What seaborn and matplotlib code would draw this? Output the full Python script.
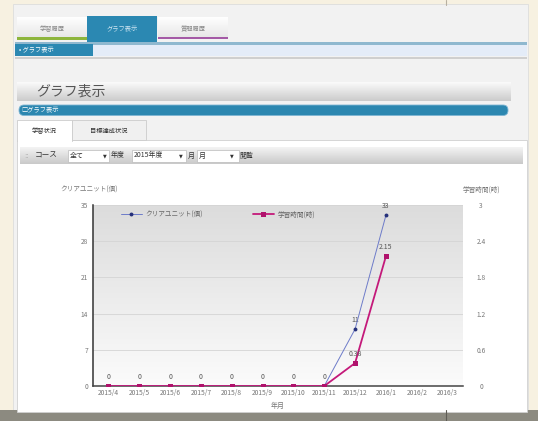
import numpy as np
import matplotlib
matplotlib.use("Agg")
import matplotlib.pyplot as plt
import seaborn as sns
from matplotlib.patches import Rectangle, FancyBboxPatch
from matplotlib.lines import Line2D
from matplotlib.colors import to_rgb

# ---- data -------------------------------------------------------------
months = ["2015/4", "2015/5", "2015/6", "2015/7", "2015/8", "2015/9",
          "2015/10", "2015/11", "2015/12", "2016/1", "2016/2", "2016/3"]
clear_units = [0, 0, 0, 0, 0, 0, 0, 0, 11, 33, np.nan, np.nan]
study_hours = [0, 0, 0, 0, 0, 0, 0, 0, 0.38, 2.15, np.nan, np.nan]
left_ticks = [0, 7, 14, 21, 28, 35]
right_ticks = [0, 0.6, 1.2, 1.8, 2.4, 3]
right_tick_labels = ["0", "0.6", "1.2", "1.8", "2.4", "3"]
series_names = ["クリアユニット(個)", "学習時間(時)"]

# ---- style ------------------------------------------------------------
sns.set_theme(style="white")
plt.rcParams["font.family"] = ["Noto Sans CJK JP", "DejaVu Sans"]

W, H = 538, 421
fig = plt.figure(figsize=(W / 100, H / 100), dpi=100)
fig.patch.set_facecolor("#f7f1e1")

# page canvas in pixel coordinates
bg = fig.add_axes([0, 0, 1, 1], zorder=0)
bg.set_xlim(0, W)
bg.set_ylim(H, 0)
bg.axis("off")


def rect(x0, y0, x1, y1, fc, ec="none", lw=0, z=1):
    bg.add_patch(Rectangle((x0, y0), x1 - x0, y1 - y0, facecolor=fc,
                           edgecolor=ec, linewidth=lw, zorder=z))


def vgrad(x0, y0, x1, y1, c_top, c_bot, z=1):
    a, b = np.array(to_rgb(c_top)), np.array(to_rgb(c_bot))
    t = np.linspace(0, 1, 64)[:, None, None]
    img = a * (1 - t) + b * t
    bg.imshow(img, extent=(x0, x1, y1, y0), aspect="auto",
              interpolation="bilinear", zorder=z)


def txt(x, y, s, size=5, color="#666666", ha="left", **kw):
    bg.text(x, y, s, fontsize=size, color=color, ha=ha, va="center", zorder=6, **kw)


# outer page
rect(13, 4, 528, 410, "#f2f2f2", ec="#dddddd", lw=0.6)
rect(0, 410, W, H, "#8c8a80")
bg.plot([446, 446], [0, 5], color="#b8b0a0", lw=0.8, zorder=2)
bg.plot([446, 446], [410, H], color="#5e5c55", lw=0.8, zorder=2)

# top navigation tabs
vgrad(17, 17, 87, 38, "#ffffff", "#e6e6e6")
rect(17, 37, 87, 40, "#8db53c", z=2)
txt(52, 29, "学習履歴", size=4.5, color="#888888", ha="center")
rect(87, 16, 157, 45, "#2b88b2", z=2)
txt(122, 29, "グラフ表示", size=4.5, color="#cfe6f2", ha="center")
vgrad(158, 17, 228, 38, "#ffffff", "#e6e6e6")
rect(158, 36.5, 228, 39, "#a45aa6", z=2)
txt(193, 29, "質問履歴", size=4.5, color="#888888", ha="center")

# breadcrumb strip
rect(15, 42, 527, 44.5, "#8fb8cf", z=2)
rect(15, 44.5, 527, 56, "#e4ecf8", z=1)
rect(15, 44, 93, 56, "#2b88b2", z=3)
txt(19, 50, "• グラフ表示", size=4.5, color="#ffffff")
rect(15, 57, 527, 59, "#cfcfcf", z=2)

# page heading
vgrad(17, 82, 511, 101, "#fbfbfb", "#cbcbcb")
txt(36, 91.5, "グラフ表示", size=10, color="#555555")
bg.add_patch(FancyBboxPatch((19, 105), 489, 10.5,
                            boxstyle="round,pad=0,rounding_size=5",
                            facecolor="#2c87b0", edgecolor="#7fb6d3",
                            linewidth=0.6, zorder=2))
txt(21, 110.3, "□グラフ表示", size=4.5, color="#ffffff")

# content panel and sub-tabs
rect(17, 140, 527, 412, "#ffffff", ec="#d0d0d0", lw=0.6, z=1)
rect(17, 120, 72, 141, "#ffffff", ec="#cccccc", lw=0.6, z=2)
rect(72, 120, 146, 140, "#f0f0f0", ec="#cccccc", lw=0.6, z=2)
rect(17.5, 139.5, 71.5, 142, "#ffffff", z=3)
txt(44.5, 131, "学習状況", size=4.5, color="#333333", ha="center")
txt(109, 131, "目標達成状況", size=4.5, color="#333333", ha="center")

# filter toolbar
vgrad(20, 147, 523, 164, "#f4f4f4", "#c9c9c9")
txt(24, 155.5, "::", size=5, color="#aaaaaa", family=["DejaVu Sans"])
txt(35, 155.5, "コース", size=5.5, color="#333333")
rect(68, 149.5, 109, 161.5, "#ffffff", ec="#bbbbbb", lw=0.5, z=2)
txt(70, 155.5, "全て", size=5, color="#333333")
txt(103, 155.5, "▼", size=3.5, color="#333333", family=["DejaVu Sans"])
txt(111, 155.5, "年度", size=5, color="#333333")
rect(132, 149.5, 186, 161.5, "#ffffff", ec="#bbbbbb", lw=0.5, z=2)
txt(134, 155.5, "2015年度", size=5, color="#333333")
txt(179, 155.5, "▼", size=3.5, color="#333333", family=["DejaVu Sans"])
txt(188, 155.5, "月", size=5, color="#333333")
rect(197, 149.5, 239, 161.5, "#ffffff", ec="#bbbbbb", lw=0.5, z=2)
txt(199, 155.5, "月", size=5, color="#333333")
txt(230, 155.5, "▼", size=3.5, color="#333333", family=["DejaVu Sans"])
txt(239, 155.5, "閲覧", size=5, color="#333333")

# plot-area backdrop
px0, px1, py0, py1 = 93, 463, 205, 386
vgrad(px0, py0, px1, py1, "#dcdcdc", "#fbfbfb", z=2)

# axis titles
txt(89, 190, series_names[0], size=4.8, color="#777777", ha="center")
txt(481, 190, series_names[1], size=4.8, color="#777777", ha="center")

# ---- chart ------------------------------------------------------------
ax = fig.add_axes([px0 / W, (H - py1) / H, (px1 - px0) / W, (py1 - py0) / H], zorder=3)
ax.set_facecolor("none")
ax2 = ax.twinx()
ax2.set_facecolor("none")

x = np.arange(len(months))
blue_line, blue_dot = "#6d7bc9", "#25307a"
mag_line, mag_dot = "#c4197a", "#b0126c"

for yv in left_ticks[1:]:
    ax.axhline(yv, color="#d4d4d4", lw=0.6, zorder=0)

sns.lineplot(x=x, y=clear_units, ax=ax, color=blue_line, linewidth=0.7,
             marker="o", markersize=2.8, markerfacecolor=blue_dot,
             markeredgewidth=0, zorder=4)
sns.lineplot(x=x, y=study_hours, ax=ax2, color=mag_line, linewidth=1.3,
             marker="s", markersize=3.6, markerfacecolor=mag_dot,
             markeredgewidth=0, zorder=3)

for i, v in enumerate(clear_units):
    if not np.isnan(v):
        ax.annotate(f"{v:g}", (i, v), xytext=(0, 3.5), textcoords="offset points",
                    ha="center", va="bottom", fontsize=5, color="#555555")
for i, v in enumerate(study_hours):
    if not np.isnan(v) and v != 0:
        ax2.annotate(f"{v:g}", (i, v), xytext=(0, 3.5), textcoords="offset points",
                     ha="center", va="bottom", fontsize=5, color="#555555")

ax.set_xlim(-0.5, len(months) - 0.5)
ax.set_ylim(left_ticks[0], left_ticks[-1])
ax2.set_ylim(right_ticks[0], right_ticks[-1])
ax.set_xticks(x, months)
ax.set_yticks(left_ticks, [str(t) for t in left_ticks])
ax2.set_yticks(right_ticks, right_tick_labels)
for lab in ax2.get_yticklabels():
    lab.set_horizontalalignment("center")

ax.tick_params(axis="x", length=0, pad=2.5, labelsize=4.8, labelcolor="#777777")
ax.tick_params(axis="y", length=0, pad=3.5, labelsize=4.8, labelcolor="#777777")
ax2.tick_params(axis="y", length=0, pad=13, labelsize=4.8, labelcolor="#777777")
ax.set_xlabel("年月", fontsize=5, color="#777777", labelpad=3, loc="center")
ax.set_ylabel("")
ax2.set_ylabel("")

for s in ["top", "right"]:
    ax.spines[s].set_visible(False)
for s in ax2.spines.values():
    s.set_visible(False)
ax.spines["left"].set_color("#333333")
ax.spines["left"].set_linewidth(1.1)
ax.spines["bottom"].set_color("#444444")
ax.spines["bottom"].set_linewidth(1.1)

handles = [
    Line2D([0], [0], color=blue_line, lw=0.7, marker="o", markersize=2.8,
           markerfacecolor=blue_dot, markeredgewidth=0),
    Line2D([0], [0], color=mag_line, lw=1.3, marker="s", markersize=3.6,
           markerfacecolor=mag_dot, markeredgewidth=0),
]
leg = ax2.legend(handles, series_names, loc="upper left", bbox_to_anchor=(0.06, 1.0),
                 ncol=2, frameon=False, fontsize=4.8, handlelength=3.2,
                 handletextpad=0.5, columnspacing=7.5, borderaxespad=0.4)
for t in leg.get_texts():
    t.set_color("#666666")

fig.savefig("out.png", dpi=100)
